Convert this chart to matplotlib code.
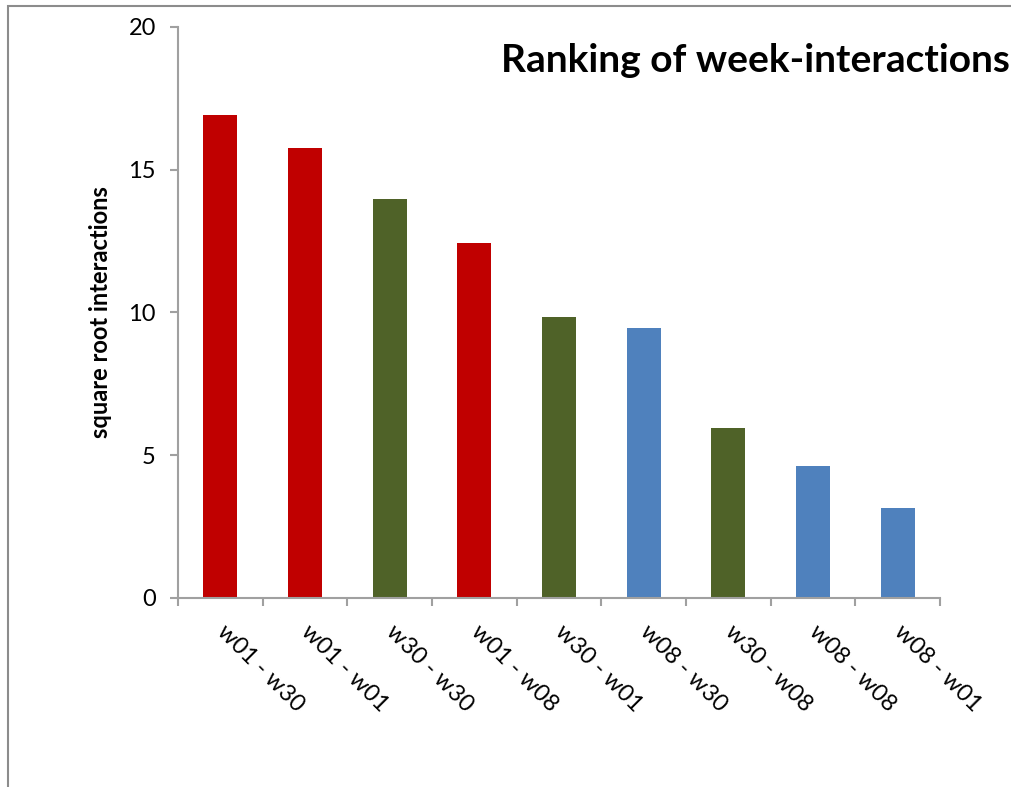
import numpy as np
import matplotlib.pyplot as plt
from matplotlib.patches import Rectangle

plt.rcParams['font.family'] = ['Lato', 'DejaVu Sans']

pairs = ['w01 - w30', 'w01 - w01', 'w30 - w30', 'w01 - w08', 'w30 - w01',
         'w08 - w30', 'w30 - w08', 'w08 - w08', 'w08 - w01']
values = [16.92, 15.76, 13.98, 12.43, 9.84, 9.46, 5.95, 4.62, 3.15]
groups = ['w01', 'w01', 'w30', 'w01', 'w30', 'w08', 'w30', 'w08', 'w08']
group_colors = {'w01': '#C00000', 'w30': '#4F6228', 'w08': '#4F81BD'}

fig = plt.figure(figsize=(10.12, 7.87), dpi=100)
ax = fig.add_axes([0.1759, 0.2402, 0.753, 0.7255])

x = np.arange(len(pairs))
ax.bar(x, values, width=0.4, color=[group_colors[g] for g in groups])

ax.set_xlim(-0.5, len(pairs) - 0.5)
ax.set_ylim(0, 20)
ax.set_yticks([0, 5, 10, 15, 20])

# category boundaries carry the tick marks, labels sit in between
ax.set_xticks(np.arange(-0.5, len(pairs)), minor=True)
ax.set_xticks(x)
ax.set_xticklabels(pairs, rotation=-45, ha='left', va='center',
                   rotation_mode='anchor', fontsize=17)
ax.tick_params(axis='x', which='major', length=0, pad=22)
ax.tick_params(axis='x', which='minor', length=6, width=1.5, color='#A0A0A0')
ax.tick_params(axis='y', length=6, width=1.5, color='#A0A0A0', labelsize=17, pad=10)

for side in ['top', 'right']:
    ax.spines[side].set_visible(False)
for side in ['left', 'bottom']:
    ax.spines[side].set_color('#A0A0A0')
    ax.spines[side].set_linewidth(1.5)

ax.set_ylabel('square root interactions', fontsize=17, fontweight='bold', labelpad=12)

fig.text(0.495, 1 - 72 / 787, 'Ranking of week-interactions', fontsize=28,
         fontweight='bold', ha='left', va='baseline')

# outer chart frame, partly cut off at the right and bottom
fig.patches.append(Rectangle((8 / 1012, -0.1), 1.2, 1.1 - 6 / 787, transform=fig.transFigure,
                             fill=False, edgecolor='#8C8C8C', linewidth=1.5))

fig.savefig('out.png', dpi=100)
